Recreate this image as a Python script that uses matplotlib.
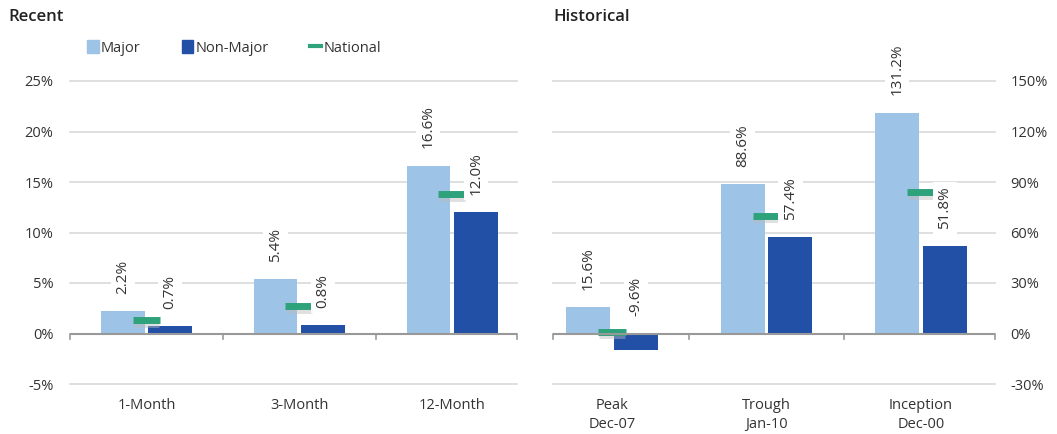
import matplotlib
matplotlib.use("Agg")
import matplotlib.pyplot as plt
from matplotlib.lines import Line2D
from matplotlib.patches import Patch
import numpy as np

plt.rcParams['font.family'] = ['Open Sans', 'DejaVu Sans']

recent_cats = ["1-Month", "3-Month", "12-Month"]
recent_major = [2.2, 5.4, 16.6]
recent_nonmajor = [0.7, 0.8, 12.0]
recent_national = [1.3, 2.7, 13.8]

hist_cats = ["Peak\nDec-07", "Trough\nJan-10", "Inception\nDec-00"]
hist_major = [15.6, 88.6, 131.2]
hist_nonmajor = [-9.6, 57.4, 51.8]
hist_national = [1.0, 70.0, 84.0]

recent_ticks = [-5, 0, 5, 10, 15, 20, 25]
hist_ticks = [-30, 0, 30, 60, 90, 120, 150]

C_MAJOR = "#9dc3e6"
C_NON = "#2150a6"
C_NAT = "#2ea27a"
C_TXT = "#333333"
C_GRID = "#d9d9d9"

fig = plt.figure(figsize=(10.57, 4.34), dpi=100)
W, H = 1057, 434

def px_axes(x0, x1, y0, y1):
    return fig.add_axes([x0 / W, 1 - y1 / H, (x1 - x0) / W, (y1 - y0) / H])

ax1 = px_axes(70, 517, 81, 384)
ax2 = px_axes(553, 995, 81, 384)

bw = 0.285
off = 0.155

def draw(ax, cats, major, non, nat, ticks, xlim, side):
    x = np.arange(len(cats))
    ax.set_ylim(ticks[0], ticks[-1])
    ax.set_xlim(*xlim)
    for t in ticks:
        if t == 0:
            continue
        ax.axhline(t, color=C_GRID, lw=1.2, zorder=0, clip_on=False)
    ax.bar(x - off, major, bw, color=C_MAJOR, zorder=2)
    ax.bar(x + off, non, bw, color=C_NON, zorder=2)
    span = (ticks[-1] - ticks[0])
    for xi, v in zip(x, nat):
        ax.plot([xi - 0.085, xi + 0.085], [v - span * 0.012, v - span * 0.012],
                color="#bbbbbb", lw=5, alpha=0.45, zorder=3, solid_capstyle='butt')
        ax.plot([xi - 0.09, xi + 0.09], [v, v], color=C_NAT, lw=5, zorder=4,
                solid_capstyle='butt')
    ax.axhline(0, color="#999999", lw=1.5, zorder=5)
    bounds = [xlim[0]] + [i + 0.5 for i in range(len(cats) - 1)] + [xlim[1]]
    for b in bounds:
        ax.plot([b, b], [0, -span * 0.018], color="#999999", lw=1.2, zorder=5,
                clip_on=False)
    for xs, vals in ((x - off, major), (x + off, non)):
        for xi, v in zip(xs, vals):
            base = max(v, 0)
            ax.annotate(f"{v:.1f}%", (xi, base), xytext=(0, 12.5),
                        textcoords="offset points", rotation=90,
                        ha="center", va="bottom", fontsize=11, color=C_TXT,
                        zorder=6,
                        bbox=dict(boxstyle="square,pad=0.3", fc="white", ec="none"))
    ax.set_xticks(x)
    ax.set_xticklabels(cats, fontsize=10.5, color=C_TXT, linespacing=1.35)
    ax.set_yticks(ticks)
    ax.set_yticklabels([f"{t}%" for t in ticks], fontsize=10.5, color=C_TXT)
    ax.tick_params(axis="both", length=0)
    ax.tick_params(axis="x", pad=10)
    if side == "right":
        ax.yaxis.tick_right()
        ax.tick_params(axis="y", pad=11)
    else:
        ax.tick_params(axis="y", pad=12)
    for s in ax.spines.values():
        s.set_visible(False)
    ax.set_facecolor("none")

draw(ax1, recent_cats, recent_major, recent_nonmajor, recent_national,
     recent_ticks, (-0.5, 2.425), "left")
draw(ax2, hist_cats, hist_major, hist_nonmajor, hist_national,
     hist_ticks, (-0.383, 2.48), "right")

fig.text(8 / W, 1 - 17 / H, "Recent", fontsize=12, color="#222222",
         fontweight="semibold", va="center", ha="left")
fig.text(553 / W, 1 - 17 / H, "Historical", fontsize=12, color="#222222",
         fontweight="semibold", va="center", ha="left")

handles = [Patch(color=C_MAJOR), Patch(color=C_NON),
           Line2D([0], [0], color=C_NAT, lw=3)]
fig.legend(handles, ["Major", "Non-Major", "National"], loc="center left",
           bbox_to_anchor=(74 / W, 1 - 48 / H), ncol=3, frameon=False,
           fontsize=10.5, handlelength=0.8, handleheight=0.9, handletextpad=0.15,
           columnspacing=2.8, labelcolor=C_TXT)

fig.savefig("out.png", dpi=100, facecolor="white")
